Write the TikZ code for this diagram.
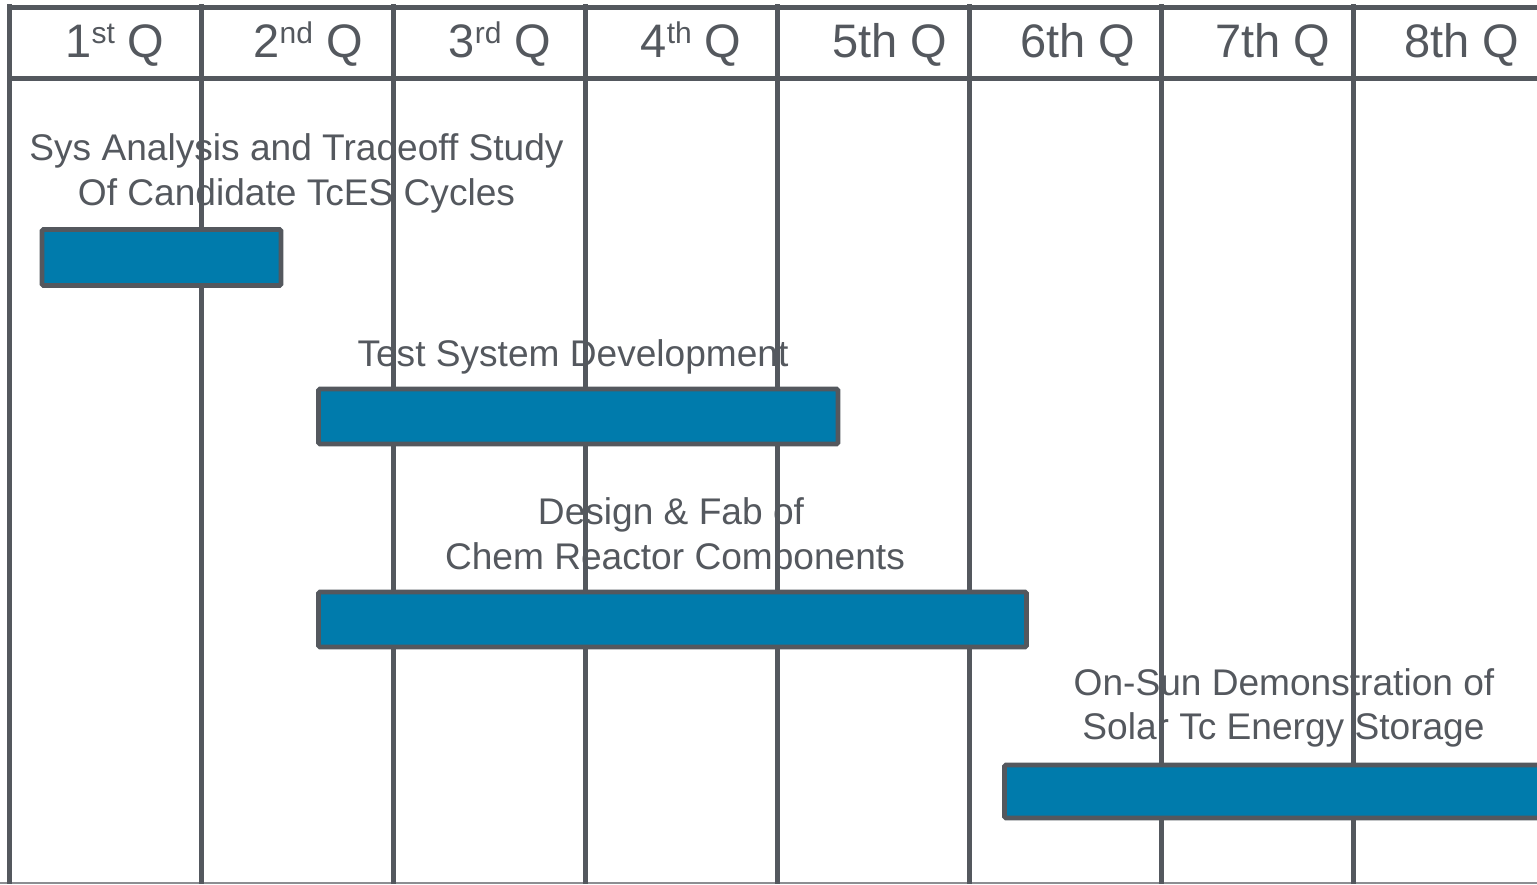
\documentclass[tikz,border=0pt]{standalone}
\usepackage{fontspec}
\setmainfont{Liberation Sans}
\definecolor{gridc}{RGB}{84,88,94}
\definecolor{barc}{RGB}{0,123,172}
\definecolor{bottomc}{RGB}{140,142,146}
\begin{document}
\begin{tikzpicture}[x=1pt,y=-1pt,
  grid/.style={draw=gridc,line width=4.6pt},
  bar/.style={draw=gridc,fill=barc,line width=4.8pt,rounded corners=1.5pt,inner sep=0pt,outer sep=0pt},
  hdr/.style={anchor=base,inner sep=0pt,text=gridc,font=\fontsize{47}{56}\selectfont},
  lbl/.style={anchor=base,inner sep=0pt,text=gridc,font=\fontsize{37.1}{44}\selectfont}]
\useasboundingbox (0,0) rectangle (1537,884);
\clip (0,0) rectangle (1537,884);
\fill[white] (0,0) rectangle (1537,884);
\newcommand{\sps}[1]{\raisebox{14pt}{\fontsize{30}{30}\selectfont #1}}
% labels (under the grid)
\node[lbl] (l1a) at (296.5,160.5) {Sys Analysis and Tradeoff Study};
\node[lbl] (l1b) at (296.5,205.5) {Of Candidate TcES Cycles};
\node[lbl] (l2) at (573,366) {Test System Development};
\node[lbl] (l3a) at (671,524.5) {Design \& Fab of};
\node[lbl] (l3b) at (675,569.5) {Chem Reactor Components};
\node[lbl] (l4a) at (1284,695) {On-Sun Demonstration of};
\node[lbl] (l4b) at (1283.5,739.5) {Solar Tc Energy Storage};
% header texts
\node[hdr] (h1) at (115,57.3) {1\sps{st} Q};
\node[hdr] (h2) at (308,57.3) {2\sps{nd} Q};
\node[hdr] (h3) at (500,57.3) {3\sps{rd} Q};
\node[hdr] (h4) at (691,57.3) {4\sps{th} Q};
\node[hdr] (h5) at (890,57.3) {5th Q};
\node[hdr] (h6) at (1078,57.3) {6th Q};
\node[hdr] (h7) at (1273,57.3) {7th Q};
\node[hdr] (h8) at (1462,57.3) {8th Q};
% grid
\draw[draw=bottomc,line width=1.2pt] (0,883) -- (1537,883);
\foreach \x in {9.7,201.5,393.5,585.5,777.5,969.5,1161.5,1353.5}
  \draw[grid] (\x,4) -- (\x,884);
\draw[grid] (7.4,7.5) -- (1537,7.5);
\draw[grid] (7.4,78.5) -- (1537,78.5);
% bars
\node[bar,minimum width=239pt,minimum height=56pt] (b1) at (161.5,257.5) {};
\node[bar,minimum width=519.5pt,minimum height=55pt] (b2) at (578.2,416.5) {};
\node[bar,minimum width=708pt,minimum height=55pt] (b3) at (672.5,619.5) {};
\node[bar,minimum width=595pt,minimum height=53pt] (b4) at (1302,791.5) {};
\end{tikzpicture}
\end{document}
